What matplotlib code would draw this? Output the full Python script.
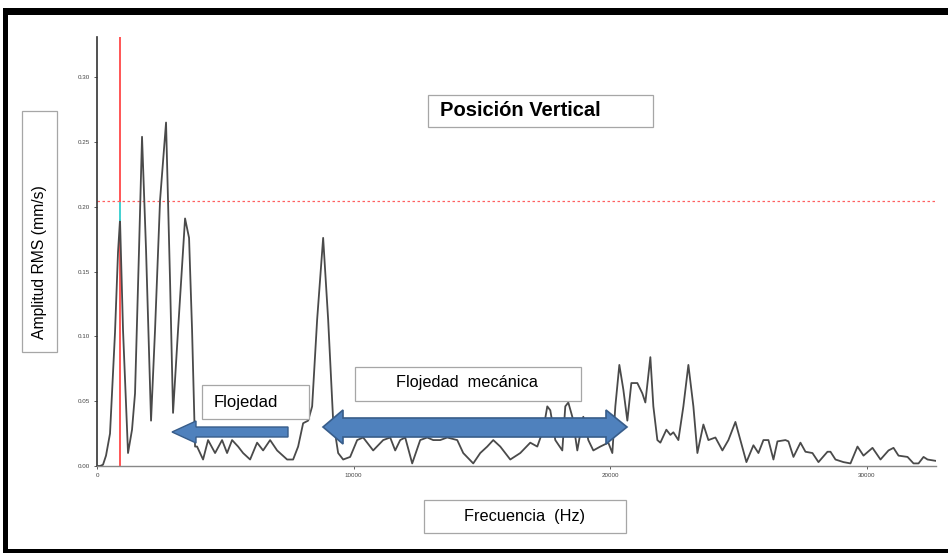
import matplotlib.pyplot as plt
from matplotlib.patches import Rectangle, Polygon
import numpy as np

plt.rcParams['font.family'] = ['Liberation Sans', 'DejaVu Sans']

# Espectro (Hz, mm/s RMS)
freq = [0, 117, 234, 351, 507, 702, 819, 897, 1014, 1209, 1365, 1482, 1638, 1755,
        1911, 2106, 2262, 2457, 2691, 2847, 2964, 3159, 3432, 3588, 3705, 3822,
        3900, 4134, 4329, 4602, 4875, 5070, 5265, 5499, 5694, 5967, 6240, 6474,
        6747, 7020, 7410, 7644, 7839, 8034, 8229, 8385, 8580, 8814, 9009, 9204,
        9399, 9594, 9867, 10140, 10374, 10764, 11154, 11427, 11622, 11817, 12012,
        12285, 12597, 12870, 13104, 13377, 13650, 14040, 14274, 14664, 14937,
        15210, 15444, 15717, 16107, 16497, 16887, 17160, 17394, 17550, 17667,
        17862, 18135, 18252, 18369, 18525, 18720, 18954, 19149, 19344, 19617,
        19929, 20085, 20202, 20358, 20514, 20670, 20826, 21060, 21255, 21372,
        21567, 21684, 21840, 21957, 22191, 22347, 22464, 22659, 22854, 23049,
        23244, 23400, 23634, 23829, 24102, 24375, 24609, 24882, 25077, 25311,
        25584, 25779, 25974, 26169, 26364, 26520, 26832, 26949, 27144, 27417,
        27612, 27885, 28119, 28470, 28587, 28782, 29094, 29367, 29640, 29874,
        30225, 30537, 30849, 31044, 31239, 31590, 31824, 32019, 32214, 32370, 32682]
amp = [0.000, 0.000, 0.001, 0.008, 0.025, 0.103, 0.165, 0.190, 0.105, 0.010, 0.028,
       0.056, 0.167, 0.254, 0.167, 0.035, 0.105, 0.205, 0.265, 0.143, 0.041, 0.105,
       0.191, 0.176, 0.105, 0.015, 0.015, 0.005, 0.020, 0.010, 0.020, 0.010, 0.020,
       0.015, 0.010, 0.005, 0.018, 0.012, 0.020, 0.012, 0.005, 0.005, 0.015, 0.033,
       0.035, 0.046, 0.113, 0.176, 0.113, 0.035, 0.010, 0.005, 0.007, 0.020, 0.022,
       0.012, 0.020, 0.022, 0.012, 0.020, 0.022, 0.002, 0.020, 0.022, 0.020, 0.020,
       0.022, 0.020, 0.010, 0.002, 0.010, 0.015, 0.020, 0.015, 0.005, 0.010, 0.018,
       0.015, 0.028, 0.046, 0.043, 0.020, 0.012, 0.046, 0.049, 0.038, 0.012, 0.038,
       0.020, 0.012, 0.015, 0.018, 0.010, 0.046, 0.078, 0.059, 0.035, 0.064, 0.064,
       0.056, 0.049, 0.084, 0.046, 0.020, 0.018, 0.028, 0.024, 0.026, 0.020, 0.046,
       0.078, 0.046, 0.010, 0.032, 0.020, 0.022, 0.012, 0.020, 0.034, 0.020, 0.003,
       0.016, 0.010, 0.020, 0.020, 0.005, 0.019, 0.020, 0.019, 0.007, 0.018, 0.011,
       0.010, 0.003, 0.011, 0.011, 0.005, 0.003, 0.002, 0.015, 0.008, 0.014, 0.005,
       0.012, 0.014, 0.008, 0.007, 0.002, 0.002, 0.007, 0.005, 0.004]

freq_marca = 897       # linea roja vertical
umbral = 0.2046        # linea roja punteada
pico_marca = 0.190

yticks = [0.00, 0.05, 0.10, 0.15, 0.20, 0.25, 0.30]
xticks = [0, 10000, 20000, 30000]

W, H = 948, 553
fig = plt.figure(figsize=(W / 100, H / 100), dpi=100)
ax = fig.add_axes([97 / W, 1 - 466 / H, (936 - 97) / W, (466 - 37) / H])

ax.plot(freq, amp, color='#4a4a4a', lw=1.3, zorder=3)
ax.axvline(freq_marca, color='#ff5555', lw=1.4, zorder=2)
ax.axhline(umbral, color='#ff6060', lw=0.9, ls=(0, (2, 2)), zorder=2)
ax.plot([freq_marca, freq_marca], [pico_marca, umbral - 0.002], color='#33e0e0', lw=1.3, zorder=4)

ax.set_xlim(0, 32700)
ax.set_ylim(0, 0.331)
ax.set_yticks(yticks)
ax.set_yticklabels(['%.2f' % v for v in yticks])
ax.set_xticks(xticks)
ax.set_xticklabels([str(v) for v in xticks])
ax.tick_params(labelsize=4.5, colors='#444444', length=2, width=0.6, pad=3)
for s in ['top', 'right']:
    ax.spines[s].set_visible(False)
ax.spines['left'].set_color('#333333')
ax.spines['left'].set_linewidth(1.2)
ax.spines['bottom'].set_color('#888888')
ax.spines['bottom'].set_linewidth(1.0)

# capa de anotaciones en pixeles
ov = fig.add_axes([0, 0, 1, 1], zorder=5)
ov.set_xlim(0, W)
ov.set_ylim(H, 0)
ov.axis('off')
ov.patch.set_alpha(0)

# marco negro
ov.add_patch(Rectangle((3, 8), W, 7, color='black', lw=0))
ov.add_patch(Rectangle((3, 8), 5, H, color='black', lw=0))
ov.add_patch(Rectangle((3, 549), W, 6, color='black', lw=0))

def caja(x0, y0, x1, y1):
    ov.add_patch(Rectangle((x0, y0), x1 - x0, y1 - y0, facecolor='white',
                           edgecolor='#a6a6a6', lw=0.9))

caja(428, 95, 653, 127)
ov.text(440, 111, 'Posición Vertical', fontsize=14.5, fontweight='bold',
        ha='left', va='center', color='black')

caja(22, 111, 57, 352)
ov.text(39.5, 262, 'Amplitud RMS (mm/s)', fontsize=11.3, rotation=90,
        ha='center', va='center', color='black')

caja(202, 385, 309, 419)
ov.text(214, 402, 'Flojedad', fontsize=12, ha='left', va='center', color='black')

caja(355, 367, 581, 401)
ov.text(467, 383, 'Flojedad  mecánica', fontsize=11.7, ha='center', va='center', color='black')

caja(424, 500, 626, 533)
ov.text(525, 517, 'Frecuencia  (Hz)', fontsize=11.7, ha='center', va='center', color='black')

azul, borde = '#4f81bd', '#385d8a'
# flecha izquierda
ov.add_patch(Polygon([(172, 432), (196, 421), (196, 427), (288, 427), (288, 437),
                      (196, 437), (196, 443)], closed=True, facecolor=azul,
                     edgecolor=borde, lw=1))
# flecha doble
ov.add_patch(Polygon([(323, 427), (343, 410), (343, 418), (606, 418), (606, 410),
                      (627, 427), (606, 444), (606, 437), (343, 437), (343, 444)],
                     closed=True, facecolor=azul, edgecolor=borde, lw=1.2))

fig.savefig('out.png', dpi=100)
